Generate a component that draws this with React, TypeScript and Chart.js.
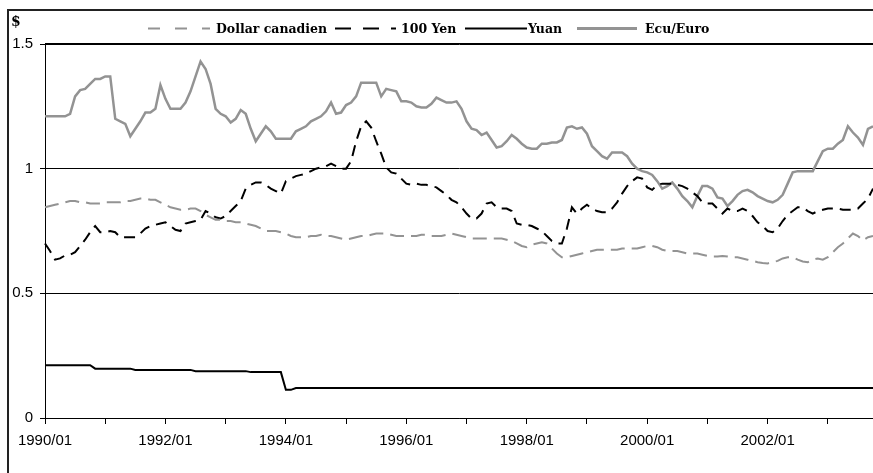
import React, { useEffect, useRef } from 'react';
import { Chart, registerables } from 'chart.js';
Chart.register(...registerables);

// Monthly categories 1990/01 .. 2003/10
const months: string[] = [];
for (let y = 1990; y <= 2003; y++) {
  for (let m = 1; m <= 12; m++) {
    if (months.length < 166) months.push(`${y}/${String(m).padStart(2, '0')}`);
  }
}

const xTickLabels = ['1990/01', '1992/01', '1994/01', '1996/01', '1998/01', '2000/01', '2002/01'];
const yTicks = [0, 0.5, 1, 1.5];
const yTickLabels = ['0', '0.5', '1', '1.5'];

const cad = [
  0.845, 0.85, 0.855, 0.86, 0.865, 0.87, 0.87, 0.865, 0.865, 0.86, 0.86, 0.86,
  0.865, 0.865, 0.865, 0.865, 0.87, 0.87, 0.875, 0.88, 0.88, 0.875, 0.875, 0.865,
  0.855, 0.845, 0.84, 0.835, 0.835, 0.84, 0.84, 0.83, 0.815, 0.805, 0.795, 0.795,
  0.79, 0.79, 0.785, 0.785, 0.78, 0.775, 0.77, 0.76, 0.75, 0.75, 0.75, 0.745,
  0.74, 0.73, 0.725, 0.725, 0.725, 0.73, 0.73, 0.735, 0.73, 0.73, 0.725, 0.72,
  0.715, 0.72, 0.725, 0.73, 0.73, 0.735, 0.74, 0.74, 0.74, 0.735, 0.73, 0.73,
  0.73, 0.73, 0.73, 0.735, 0.735, 0.73, 0.73, 0.73, 0.735, 0.74, 0.735, 0.73,
  0.725, 0.72, 0.72, 0.72, 0.72, 0.72, 0.72, 0.72, 0.715, 0.71, 0.7, 0.69,
  0.685, 0.695, 0.7, 0.705, 0.7, 0.68, 0.66, 0.645, 0.645, 0.65, 0.655, 0.66,
  0.665, 0.67, 0.675, 0.675, 0.675, 0.675, 0.675, 0.68, 0.68, 0.68, 0.68, 0.685,
  0.69, 0.69, 0.685, 0.675, 0.67, 0.67, 0.67, 0.665, 0.66, 0.66, 0.66, 0.655,
  0.65, 0.648, 0.648, 0.65, 0.648, 0.645, 0.645, 0.64, 0.635, 0.63, 0.625, 0.622,
  0.62, 0.625, 0.63, 0.64, 0.645, 0.645, 0.635, 0.628, 0.625, 0.635, 0.64, 0.635,
  0.645, 0.665, 0.685, 0.7, 0.72, 0.74, 0.73, 0.712, 0.725, 0.73,
];

const yen = [
  0.7, 0.67, 0.635, 0.64, 0.652, 0.655, 0.665, 0.69, 0.715, 0.745, 0.77, 0.745,
  0.745, 0.75, 0.745, 0.725, 0.725, 0.725, 0.725, 0.74, 0.76, 0.77, 0.775, 0.78,
  0.785, 0.77, 0.755, 0.75, 0.78, 0.785, 0.79, 0.795, 0.83, 0.82, 0.805, 0.8,
  0.81, 0.83, 0.85, 0.87, 0.92, 0.935, 0.945, 0.945, 0.935, 0.92, 0.91, 0.9,
  0.95, 0.96, 0.97, 0.975, 0.98, 0.99, 1.0, 1.005, 1.01, 1.02, 1.01, 1.0,
  1.0, 1.03, 1.11, 1.17, 1.19, 1.165, 1.11, 1.06, 1.005, 0.985, 0.98, 0.96,
  0.94, 0.935, 0.94, 0.935, 0.935, 0.93, 0.925, 0.91, 0.895, 0.875, 0.865, 0.845,
  0.82, 0.8, 0.8, 0.82, 0.86, 0.865, 0.845, 0.84, 0.84, 0.83, 0.78, 0.775,
  0.775, 0.77, 0.76, 0.75, 0.73, 0.71, 0.7, 0.7, 0.76, 0.845, 0.82, 0.84,
  0.855, 0.84, 0.83, 0.825, 0.825, 0.84, 0.865, 0.9, 0.93, 0.95, 0.965, 0.96,
  0.925, 0.915, 0.935, 0.94, 0.94, 0.94, 0.935, 0.93, 0.92, 0.905, 0.89, 0.865,
  0.86, 0.86, 0.84, 0.82, 0.84, 0.83, 0.83, 0.84, 0.83, 0.81, 0.785, 0.77,
  0.75, 0.745, 0.76, 0.79, 0.815, 0.83, 0.845, 0.845, 0.83, 0.82, 0.83, 0.835,
  0.84, 0.84, 0.84, 0.835, 0.835, 0.835, 0.84, 0.86, 0.88, 0.92,
];

const yuan = [
  0.212, 0.212, 0.212, 0.212, 0.212, 0.212, 0.212, 0.212, 0.212, 0.212, 0.198, 0.198,
  0.198, 0.198, 0.198, 0.198, 0.198, 0.198, 0.193, 0.193, 0.193, 0.193, 0.193, 0.193,
  0.193, 0.193, 0.193, 0.193, 0.193, 0.193, 0.188, 0.188, 0.188, 0.188, 0.188, 0.188,
  0.188, 0.188, 0.188, 0.188, 0.188, 0.184, 0.184, 0.184, 0.184, 0.184, 0.184, 0.184,
  0.113, 0.113, 0.12, 0.12, 0.12, 0.12, 0.12, 0.12, 0.12, 0.12, 0.12, 0.12,
  0.12, 0.12, 0.12, 0.12, 0.12, 0.12, 0.12, 0.12, 0.12, 0.12, 0.12, 0.12,
  0.12, 0.12, 0.12, 0.12, 0.12, 0.12, 0.12, 0.12, 0.12, 0.12, 0.12, 0.12,
  0.12, 0.12, 0.12, 0.12, 0.12, 0.12, 0.12, 0.12, 0.12, 0.12, 0.12, 0.12,
  0.12, 0.12, 0.12, 0.12, 0.12, 0.12, 0.12, 0.12, 0.12, 0.12, 0.12, 0.12,
  0.12, 0.12, 0.12, 0.12, 0.12, 0.12, 0.12, 0.12, 0.12, 0.12, 0.12, 0.12,
  0.12, 0.12, 0.12, 0.12, 0.12, 0.12, 0.12, 0.12, 0.12, 0.12, 0.12, 0.12,
  0.12, 0.12, 0.12, 0.12, 0.12, 0.12, 0.12, 0.12, 0.12, 0.12, 0.12, 0.12,
  0.12, 0.12, 0.12, 0.12, 0.12, 0.12, 0.12, 0.12, 0.12, 0.12, 0.12, 0.12,
  0.12, 0.12, 0.12, 0.12, 0.12, 0.12, 0.12, 0.12, 0.12, 0.12,
];

const euro = [
  1.21, 1.21, 1.21, 1.21, 1.21, 1.22, 1.29, 1.315, 1.32, 1.34, 1.36, 1.36,
  1.37, 1.37, 1.2, 1.19, 1.18, 1.13, 1.16, 1.19, 1.225, 1.225, 1.24, 1.335,
  1.28, 1.24, 1.24, 1.24, 1.265, 1.31, 1.37, 1.43, 1.4, 1.34, 1.24, 1.22,
  1.21, 1.185, 1.2, 1.235, 1.22, 1.16, 1.11, 1.14, 1.17, 1.15, 1.12, 1.12,
  1.12, 1.12, 1.15, 1.16, 1.17, 1.19, 1.2, 1.21, 1.23, 1.265, 1.22, 1.225,
  1.255, 1.265, 1.29, 1.345, 1.345, 1.345, 1.345, 1.29, 1.32, 1.315, 1.31, 1.27,
  1.27, 1.265, 1.25, 1.245, 1.245, 1.26, 1.285, 1.275, 1.265, 1.265, 1.27, 1.24,
  1.19, 1.16, 1.155, 1.135, 1.145, 1.115, 1.085, 1.09, 1.11, 1.135, 1.12, 1.1,
  1.085, 1.08, 1.08, 1.1, 1.1, 1.105, 1.105, 1.115, 1.165, 1.17, 1.16, 1.165,
  1.14, 1.09, 1.07, 1.05, 1.04, 1.065, 1.065, 1.065, 1.05, 1.02, 1.0, 0.99,
  0.985, 0.975, 0.95, 0.92, 0.93, 0.945, 0.92, 0.89, 0.87, 0.845, 0.89, 0.93,
  0.93, 0.92, 0.885, 0.88, 0.85, 0.87, 0.895, 0.91, 0.915, 0.905, 0.89, 0.88,
  0.87, 0.865, 0.875, 0.895, 0.94, 0.985, 0.99, 0.99, 0.99, 0.99, 1.03, 1.07,
  1.08, 1.08, 1.1, 1.115, 1.17, 1.145, 1.125, 1.095, 1.16, 1.17,
];

const GRAY = '#939393';

const decorPlugin = {
  id: 'decor',
  afterDraw(chart: any) {
    const ctx = chart.ctx as CanvasRenderingContext2D;
    const area = chart.chartArea;
    ctx.save();
    // outer frame
    ctx.strokeStyle = '#222';
    ctx.lineWidth = 2;
    ctx.setLineDash([]);
    ctx.beginPath();
    ctx.moveTo(8, 473);
    ctx.lineTo(8, 10);
    ctx.lineTo(873, 10);
    ctx.stroke();
    // legend bottom line
    ctx.lineWidth = 1;
    ctx.strokeStyle = '#000';
    ctx.beginPath();
    ctx.moveTo(area.left, 43.5);
    ctx.lineTo(873, 43.5);
    ctx.stroke();
    // $ label
    ctx.fillStyle = '#000';
    ctx.font = 'bold 14px "DejaVu Serif"';
    ctx.textBaseline = 'alphabetic';
    ctx.textAlign = 'left';
    ctx.fillText('$', 11, 26);

    const items = [
      { x1: 148, x2: 210, color: GRAY, dash: [12, 15], w: 2, text: 'Dollar canadien', tx: 216, tw: 113 },
      { x1: 335, x2: 396, color: '#000', dash: [16, 12], w: 2, text: '100 Yen', tx: 401, tw: 56 },
      { x1: 465, x2: 527, color: '#000', dash: [], w: 2, text: 'Yuan', tx: 528, tw: 40 },
      { x1: 577, x2: 637, color: GRAY, dash: [], w: 3, text: 'Ecu/Euro', tx: 645, tw: 65 },
    ];
    ctx.font = 'bold 12.5px "DejaVu Serif"';
    for (const it of items) {
      ctx.strokeStyle = it.color;
      ctx.lineWidth = it.w;
      ctx.setLineDash(it.dash);
      ctx.beginPath();
      ctx.moveTo(it.x1, 28.5);
      ctx.lineTo(it.x2, 28.5);
      ctx.stroke();
      ctx.setLineDash([]);
      ctx.fillStyle = '#000';
      ctx.fillText(it.text, it.tx, 33, it.tw);
    }
    ctx.restore();
  },
};

export default function App() {
  const ref = useRef<HTMLCanvasElement | null>(null);
  useEffect(() => {
    document.body.style.margin = '0';
    document.body.style.overflow = 'hidden';
    const canvas = ref.current;
    if (!canvas) return;
    const chart = new Chart(canvas, {
      type: 'line',
      data: {
        labels: months,
        datasets: [
          { label: 'Dollar canadien', data: cad, borderColor: GRAY, borderWidth: 2, borderDash: [14, 7], pointRadius: 0, tension: 0 },
          { label: '100 Yen', data: yen, borderColor: '#000', borderWidth: 2, borderDash: [11, 7], pointRadius: 0, tension: 0 },
          { label: 'Yuan', data: yuan, borderColor: '#000', borderWidth: 2, pointRadius: 0, tension: 0 },
          { label: 'Ecu/Euro', data: euro, borderColor: GRAY, borderWidth: 2.5, pointRadius: 0, tension: 0 },
        ],
      },
      options: {
        animation: false,
        responsive: false,
        layout: { padding: { left: 0, top: 44, right: 0, bottom: 0 } },
        plugins: { legend: { display: false }, tooltip: { enabled: false } },
        scales: {
          x: {
            type: 'category',
            offset: false,
            afterFit: (scale: any) => { scale.height = 55; },
            afterBuildTicks: (scale: any) => {
              scale.ticks = scale.ticks.filter((t: any) => months[t.value] && months[t.value].endsWith('/01'));
            },
            ticks: {
              autoSkip: false,
              maxRotation: 0,
              minRotation: 0,
              padding: 8,
              color: '#000',
              font: { family: '"Liberation Sans", Arial', size: 15 },
              callback: (value: any) => {
                const lab = months[value as number];
                return xTickLabels.includes(lab) ? lab : '';
              },
            },
            grid: { drawOnChartArea: false, drawTicks: true, tickLength: 6, color: '#000', tickColor: '#000', tickWidth: 1 },
            border: { display: true, color: '#000', width: 1 },
          },
          y: {
            type: 'linear',
            min: 0,
            max: 1.5,
            afterFit: (scale: any) => { scale.width = 45; },
            afterBuildTicks: (scale: any) => { scale.ticks = yTicks.map((v) => ({ value: v })); },
            ticks: {
              padding: 7,
              color: '#000',
              font: { family: '"Liberation Sans", Arial', size: 15 },
              callback: (value: any) => {
                const i = yTicks.indexOf(Number(value));
                return i >= 0 ? yTickLabels[i] : '';
              },
            },
            grid: { color: '#000', lineWidth: 1, tickLength: 5, drawTicks: true, tickColor: '#000' },
            border: { display: true, color: '#000', width: 1 },
          },
        },
      },
      plugins: [decorPlugin],
    });
    return () => chart.destroy();
  }, []);
  return (
    <div style={{ width: 873, height: 473 }}>
      <canvas ref={ref} width={873} height={473} style={{ display: 'block' }} />
    </div>
  );
}
